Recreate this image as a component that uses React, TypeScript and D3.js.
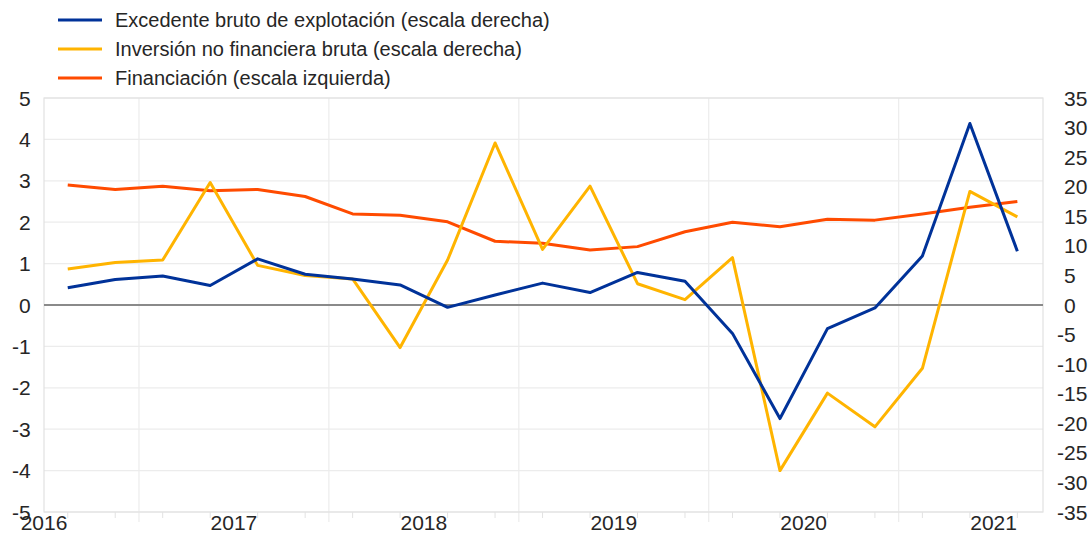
import * as d3 from 'd3';
import React, { useRef, useEffect } from 'react';

// quarterly observations, 2016 Q1 - 2021 Q1
const quarters = [
  '2016-Q1', '2016-Q2', '2016-Q3', '2016-Q4',
  '2017-Q1', '2017-Q2', '2017-Q3', '2017-Q4',
  '2018-Q1', '2018-Q2', '2018-Q3', '2018-Q4',
  '2019-Q1', '2019-Q2', '2019-Q3', '2019-Q4',
  '2020-Q1', '2020-Q2', '2020-Q3', '2020-Q4',
  '2021-Q1',
];

// left scale
const financiacion = [2.90, 2.79, 2.87, 2.76, 2.79, 2.62, 2.20, 2.17, 2.01, 1.54, 1.49,
  1.33, 1.41, 1.77, 2.00, 1.89, 2.07, 2.05, 2.20, 2.36, 2.50];
// right scale
const excedente = [2.9, 4.3, 4.9, 3.3, 7.8, 5.2, 4.4, 3.4, -0.4, 1.7, 3.7,
  2.1, 5.5, 4.0, -4.8, -19.2, -4.0, -0.5, 8.3, 30.7, 9.1];
const inversion = [6.1, 7.2, 7.6, 20.7, 6.7, 5.0, 4.4, -7.2, 7.6, 27.4, 9.4,
  20.1, 3.6, 0.9, 8.0, -28.0, -14.9, -20.6, -10.7, 19.2, 14.9];

const years = [2016, 2017, 2018, 2019, 2020, 2021];
const leftTicks = [5, 4, 3, 2, 1, 0, -1, -2, -3, -4, -5];
const rightTicks = [35, 30, 25, 20, 15, 10, 5, 0, -5, -10, -15, -20, -25, -30, -35];

const seriesNames = [
  'Excedente bruto de explotación (escala derecha)',
  'Inversión no financiera bruta (escala derecha)',
  'Financiación (escala izquierda)',
];
const seriesColors = ['#003299', '#FFB400', '#FF4B00'];

const W = 1090;
const H = 536;
const FONT = '"Liberation Sans", Arial, sans-serif';

// quarter -> fractional year, plotted at mid-quarter
const qTime = (q: string) => {
  const [y, p] = q.split('-Q');
  return +y + (+p - 1) / 4 + 0.125;
};

function Chart() {
  const ref = useRef<SVGSVGElement>(null);

  useEffect(() => {
    const svg = d3.select(ref.current);
    svg.selectAll('*').remove();

    const left = 44, right = 1043, top = 98, bottom = 512;
    const x = d3.scaleLinear().domain([2016, 2021.26]).range([left, right]);
    const yL = d3.scaleLinear().domain([-5, 5]).range([bottom, top]);
    const yR = d3.scaleLinear().domain([-35, 35]).range([bottom, top]);

    // gridlines
    const grid = svg.append('g');
    grid.selectAll('line.h')
      .data(leftTicks)
      .enter()
      .append('line')
      .attr('x1', left).attr('x2', right)
      .attr('y1', (d) => yL(d)).attr('y2', (d) => yL(d))
      .attr('stroke', '#ececec').attr('stroke-width', 1.2);
    grid.selectAll('line.v')
      .data(years.slice(0, 5))
      .enter()
      .append('line')
      .attr('x1', (d) => x(d + 0.5)).attr('x2', (d) => x(d + 0.5))
      .attr('y1', top).attr('y2', bottom + 10)
      .attr('stroke', '#ececec').attr('stroke-width', 1.2);

    // frame
    svg.append('rect')
      .attr('x', left).attr('y', top)
      .attr('width', right - left).attr('height', bottom - top)
      .attr('fill', 'none').attr('stroke', '#e2e2e2').attr('stroke-width', 1.2);

    // quarter ticks under axis
    svg.append('g').selectAll('line')
      .data(quarters)
      .enter()
      .append('line')
      .attr('x1', (d) => x(qTime(d))).attr('x2', (d) => x(qTime(d)))
      .attr('y1', bottom).attr('y2', bottom + 6)
      .attr('stroke', '#e2e2e2').attr('stroke-width', 1);

    // zero line
    svg.append('line')
      .attr('x1', left).attr('x2', right)
      .attr('y1', yL(0)).attr('y2', yL(0))
      .attr('stroke', '#8a8a8a').attr('stroke-width', 2);

    const lineL = d3.line<number>()
      .x((d, i) => x(qTime(quarters[i])))
      .y((d) => yL(d));
    const lineR = d3.line<number>()
      .x((d, i) => x(qTime(quarters[i])))
      .y((d) => yR(d));

    const lines = [
      { data: excedente, gen: lineR, color: seriesColors[0] },
      { data: inversion, gen: lineR, color: seriesColors[1] },
      { data: financiacion, gen: lineL, color: seriesColors[2] },
    ];
    // draw order: financiación first, then inversión, then excedente on top
    [2, 1, 0].forEach((k) => {
      svg.append('path')
        .datum(lines[k].data)
        .attr('d', lines[k].gen)
        .attr('fill', 'none')
        .attr('stroke', lines[k].color)
        .attr('stroke-width', 3)
        .attr('stroke-linejoin', 'round');
    });

    // axis labels
    const txt = (g: any) => g
      .attr('font-family', FONT)
      .attr('font-size', 21)
      .attr('fill', '#262626')
      .attr('dominant-baseline', 'central');

    svg.append('g').selectAll('text')
      .data(leftTicks)
      .enter()
      .append('text')
      .call(txt)
      .attr('x', (d) => (d < 0 ? 12 : 19))
      .attr('y', (d) => yL(d))
      .text((d) => String(d));

    svg.append('g').selectAll('text')
      .data(rightTicks)
      .enter()
      .append('text')
      .call(txt)
      .attr('x', (d) => (d < 0 ? 1057 : 1064))
      .attr('y', (d) => yR(d))
      .text((d) => String(d));

    svg.append('g').selectAll('text')
      .data(years)
      .enter()
      .append('text')
      .call(txt)
      .attr('text-anchor', 'middle')
      .attr('x', (d) => x(d))
      .attr('y', bottom + 10)
      .text((d) => String(d));

    // legend
    const legend = svg.append('g');
    seriesNames.forEach((name, i) => {
      const cy = 20 + i * 29;
      legend.append('line')
        .attr('x1', 58).attr('x2', 102)
        .attr('y1', cy).attr('y2', cy)
        .attr('stroke', seriesColors[i]).attr('stroke-width', 3);
      legend.append('text')
        .attr('x', 115).attr('y', cy)
        .attr('font-family', FONT)
        .attr('font-size', 20)
        .attr('fill', '#262626')
        .attr('dominant-baseline', 'central')
        .text(name);
    });
  }, []);

  return (
    <svg ref={ref} width={W} height={H}
      style={{ position: 'absolute', left: 0, top: 0, background: '#fff' }} />
  );
}

export default function App() {
  return <Chart />;
}
